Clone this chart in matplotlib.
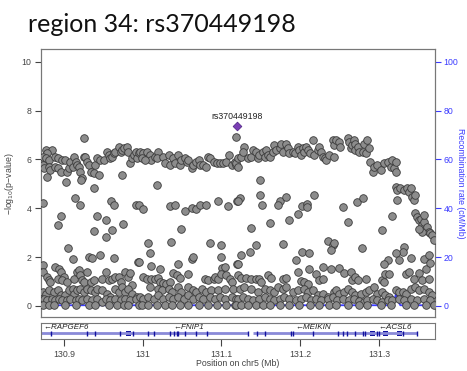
import numpy as np
import matplotlib
matplotlib.use("Agg")
import matplotlib.pyplot as plt

plt.rcParams['font.family'] = ['Liberation Sans', 'DejaVu Sans']

# Lead variant
lead_snp = 'rs370449198'
lead_pos = 131.120
lead_logp = 7.36

# Other SNPs in the region: (position in Mb, -log10 p)
snps_a_top = [
    (130.926, 6.86), (130.877, 6.38), (130.885, 6.38), (130.879, 6.25), (130.873, 6.11), (130.877, 6.04),
    (130.881, 5.97), (130.889, 6.11), (130.892, 6.04), (130.873, 5.77), (130.875, 5.63), (130.881, 5.70),
    (130.883, 5.56), (130.889, 5.70), (130.892, 5.63), (130.879, 5.29), (130.896, 5.49), (130.898, 5.97),
    (130.902, 5.97), (130.904, 5.49), (130.906, 5.63), (130.908, 5.90), (130.911, 5.70), (130.913, 6.11),
    (130.915, 5.90), (130.917, 5.77), (130.919, 5.70), (130.921, 5.49), (130.923, 5.22), (130.925, 6.11),
    (130.927, 6.11), (130.930, 5.90), (130.932, 5.77), (130.934, 5.49), (130.938, 5.43), (130.940, 5.77),
    (130.942, 6.04), (130.944, 5.36), (130.946, 5.97), (130.951, 5.97), (130.955, 6.31), (130.957, 6.18),
    (130.959, 6.04), (130.961, 6.11), (130.963, 6.25), (130.965, 6.31), (130.970, 6.52), (130.972, 6.31),
    (130.974, 6.38), (130.976, 6.45), (130.980, 6.52), (130.981, 6.31), (130.984, 5.84), (130.987, 6.04),
    (130.989, 6.18), (130.991, 6.31), (130.993, 6.04), (130.995, 6.25), (130.974, 5.36), (130.938, 4.81),
    (130.903, 5.08), (130.922, 5.15),
]
snps_a_mid = [
    (130.873, 4.20), (130.914, 4.43), (130.920, 4.13), (130.960, 4.29), (130.963, 4.13), (130.992, 4.13),
    (130.896, 3.69), (130.892, 3.31), (130.942, 3.69), (130.954, 3.53), (130.975, 3.35), (130.938, 3.06),
    (130.961, 3.09), (130.954, 2.83), (130.905, 2.38), (130.911, 1.91), (130.932, 1.99), (130.936, 1.97),
    (130.946, 2.08), (130.963, 1.97), (130.994, 1.81),
]
snps_a_low = [
    (130.873, 1.67), (130.873, 1.40), (130.879, 1.19), (130.881, 1.05), (130.883, 0.99), (130.889, 1.60),
    (130.894, 1.53), (130.896, 1.40), (130.892, 1.12), (130.900, 1.19), (130.898, 1.05), (130.904, 0.99),
    (130.913, 1.12), (130.917, 1.40), (130.919, 1.46), (130.921, 1.26), (130.923, 1.05), (130.930, 1.40),
    (130.925, 0.99), (130.934, 0.99), (130.938, 1.05), (130.949, 1.12), (130.953, 1.40), (130.957, 1.05),
    (130.961, 1.12), (130.965, 1.19), (130.970, 1.19), (130.972, 0.99), (130.978, 1.40), (130.982, 1.19),
    (130.984, 1.33), (130.987, 0.85), (130.873, 0.58), (130.877, 0.51), (130.881, 0.64), (130.887, 0.58),
    (130.892, 0.64), (130.896, 0.44), (130.902, 0.44), (130.906, 0.64), (130.911, 0.71), (130.913, 0.51),
    (130.917, 0.64), (130.921, 0.71), (130.925, 0.58), (130.930, 0.71), (130.934, 0.64), (130.940, 0.58),
    (130.942, 0.71), (130.949, 0.64), (130.955, 0.51), (130.959, 0.37), (130.965, 0.71), (130.970, 0.58),
    (130.974, 0.78), (130.978, 0.58), (130.982, 0.71), (130.987, 0.51), (130.993, 0.37), (130.875, 0.30),
    (130.879, 0.23), (130.885, 0.30), (130.889, 0.23), (130.894, 0.30), (130.898, 0.23), (130.904, 0.23),
    (130.908, 0.30), (130.915, 0.23), (130.919, 0.30), (130.923, 0.23), (130.930, 0.30), (130.936, 0.23),
    (130.942, 0.30), (130.949, 0.17), (130.953, 0.30), (130.959, 0.23), (130.965, 0.30), (130.972, 0.23),
    (130.978, 0.30), (130.984, 0.23), (130.991, 0.30), (130.873, 0.06), (130.881, 0.06), (130.887, 0.06),
    (130.902, 0.06), (130.915, 0.06), (130.932, 0.06), (130.940, 0.06), (130.957, 0.06), (130.968, 0.06),
    (130.976, 0.06), (130.982, 0.06), (130.995, 0.06),
]

snps_b_top = [
    (130.997, 6.31), (131.001, 6.25), (131.005, 6.31), (131.009, 6.18), (131.011, 5.97), (131.016, 6.11),
    (131.020, 6.31), (131.018, 6.04), (130.999, 6.04), (131.003, 5.97), (131.026, 6.11), (131.028, 5.84),
    (131.033, 6.18), (131.035, 5.77), (131.039, 6.04), (131.041, 5.84), (131.045, 6.18), (131.047, 5.77),
    (131.049, 5.97), (131.054, 6.04), (131.056, 5.90), (131.058, 5.97), (131.062, 5.63), (131.064, 5.77),
    (131.068, 5.90), (131.071, 5.97), (131.073, 5.77), (131.077, 5.77), (131.081, 5.70), (131.083, 6.11),
    (131.085, 6.04), (131.090, 5.90), (131.094, 5.84), (131.098, 5.84), (131.102, 5.84), (131.106, 5.90),
    (131.109, 6.18), (131.113, 5.77), (131.117, 5.90), (131.119, 5.77), (131.119, 6.93), (131.018, 4.95),
]
snps_b_mid = [
    (130.995, 4.13), (131.001, 3.96), (131.035, 4.09), (131.041, 4.15), (131.054, 3.88), (131.062, 4.03),
    (131.068, 3.99), (131.073, 4.13), (131.081, 4.13), (131.095, 4.31), (131.108, 4.09), (131.120, 4.29),
    (131.049, 3.14), (131.007, 2.56), (131.036, 2.60), (131.085, 2.56), (131.099, 2.49), (131.009, 2.15),
    (130.995, 1.81), (131.011, 1.64), (131.022, 1.53), (131.045, 1.71), (131.062, 1.94), (131.064, 2.01),
    (131.099, 2.01), (131.101, 1.56), (131.105, 1.60), (131.120, 1.70),
]
snps_b_low = [
    (131.001, 1.19), (131.005, 1.10), (131.011, 1.10), (131.016, 1.12), (131.020, 1.15), (131.022, 0.99),
    (131.026, 0.96), (131.030, 0.88), (131.035, 0.99), (131.039, 1.33), (131.043, 1.26), (131.047, 1.15),
    (131.058, 1.29), (131.079, 1.12), (131.083, 1.05), (131.090, 1.10), (131.092, 1.19), (131.096, 1.12),
    (131.100, 1.29), (131.106, 1.26), (131.111, 1.10), (131.113, 0.99), (131.009, 0.78), (131.020, 0.71),
    (131.024, 0.64), (131.033, 0.71), (131.037, 0.58), (131.045, 0.78), (131.049, 0.58), (131.058, 0.78),
    (131.064, 0.64), (131.068, 0.58), (131.075, 0.71), (131.081, 0.58), (131.087, 0.64), (131.096, 0.64),
    (131.104, 0.71), (131.115, 0.71), (130.997, 0.37), (131.001, 0.30), (131.007, 0.37), (131.014, 0.30),
    (131.020, 0.44), (131.026, 0.30), (131.033, 0.37), (131.039, 0.30), (131.045, 0.37), (131.052, 0.30),
    (131.058, 0.44), (131.064, 0.30), (131.071, 0.37), (131.077, 0.30), (131.085, 0.37), (131.092, 0.30),
    (131.098, 0.37), (131.104, 0.30), (131.113, 0.37), (131.119, 0.30), (130.999, 0.06), (131.007, 0.06),
    (131.018, 0.06), (131.028, 0.06), (131.037, 0.06), (131.047, 0.06), (131.058, 0.06), (131.071, 0.06),
    (131.083, 0.06), (131.094, 0.06), (131.106, 0.06), (131.117, 0.06),
]

snps_c_top = [
    (131.119, 5.84), (131.121, 5.70), (131.121, 6.04), (131.125, 6.11), (131.129, 6.52), (131.127, 6.31),
    (131.134, 6.04), (131.138, 6.11), (131.140, 6.38), (131.144, 6.31), (131.146, 6.04), (131.148, 6.18),
    (131.153, 6.31), (131.155, 6.11), (131.157, 6.38), (131.159, 6.18), (131.161, 6.11), (131.165, 6.31),
    (131.167, 6.59), (131.169, 6.38), (131.174, 6.45), (131.176, 6.65), (131.178, 6.31), (131.182, 6.65),
    (131.184, 6.45), (131.186, 6.25), (131.191, 6.31), (131.193, 6.25), (131.197, 6.52), (131.199, 6.38),
    (131.201, 6.18), (131.203, 6.45), (131.205, 6.31), (131.207, 6.52), (131.210, 6.38), (131.212, 6.25),
    (131.216, 6.79), (131.218, 6.18), (131.222, 6.38), (131.224, 6.52), (131.226, 6.31), (131.229, 6.11),
    (131.231, 6.04), (131.233, 5.97), (131.237, 6.18), (131.241, 6.79), (131.243, 6.59), (131.243, 6.11),
]
snps_c_mid = [
    (131.149, 5.15), (131.149, 4.54), (131.123, 4.43), (131.121, 4.29), (131.152, 4.13), (131.174, 4.29),
    (131.172, 4.15), (131.182, 4.47), (131.202, 4.10), (131.208, 4.18), (131.208, 4.05), (131.217, 4.54),
    (131.197, 3.76), (131.186, 3.51), (131.161, 3.38), (131.138, 3.20), (131.144, 2.49), (131.178, 2.54),
    (131.136, 2.22), (131.125, 2.08), (131.121, 1.70), (131.202, 2.22), (131.211, 2.16), (131.235, 2.68),
    (131.241, 2.49), (131.239, 2.28), (131.194, 1.87), (131.211, 1.50), (131.229, 1.61), (131.239, 1.53),
    (131.220, 1.30),
]
snps_c_low = [
    (131.121, 1.26), (131.125, 1.15), (131.131, 1.15), (131.138, 1.12), (131.144, 1.12), (131.148, 1.10),
    (131.150, 0.99), (131.159, 1.26), (131.163, 1.15), (131.178, 1.12), (131.182, 1.15), (131.197, 1.40),
    (131.201, 1.01), (131.205, 0.99), (131.210, 0.92), (131.224, 1.05), (131.229, 1.10), (131.123, 0.71),
    (131.129, 0.78), (131.138, 0.71), (131.146, 0.58), (131.155, 0.71), (131.161, 0.64), (131.167, 0.58),
    (131.172, 0.78), (131.178, 0.71), (131.182, 0.78), (131.191, 0.58), (131.197, 0.64), (131.205, 0.71),
    (131.210, 0.58), (131.216, 0.64), (131.222, 0.44), (131.229, 0.51), (131.235, 0.37), (131.243, 0.58),
    (131.121, 0.30), (131.127, 0.37), (131.134, 0.30), (131.140, 0.23), (131.148, 0.30), (131.155, 0.37),
    (131.161, 0.30), (131.167, 0.23), (131.174, 0.30), (131.180, 0.37), (131.186, 0.30), (131.195, 0.23),
    (131.201, 0.30), (131.207, 0.37), (131.214, 0.23), (131.220, 0.30), (131.226, 0.23), (131.235, 0.30),
    (131.241, 0.37), (131.119, 0.06), (131.125, 0.06), (131.134, 0.06), (131.144, 0.06), (131.153, 0.06),
    (131.161, 0.06), (131.174, 0.06), (131.186, 0.06), (131.199, 0.06), (131.212, 0.06), (131.224, 0.06),
    (131.237, 0.06),
]

snps_d_top = [
    (131.245, 6.79), (131.249, 6.72), (131.251, 6.52), (131.260, 6.89), (131.262, 6.72), (131.264, 6.45),
    (131.266, 6.59), (131.268, 6.79), (131.270, 6.65), (131.270, 6.38), (131.273, 6.52), (131.275, 6.31),
    (131.279, 6.31), (131.281, 6.65), (131.283, 6.25), (131.285, 6.79), (131.287, 6.45), (131.289, 5.90),
    (131.292, 5.49), (131.294, 5.70), (131.298, 5.77), (131.302, 5.56), (131.306, 5.84), (131.311, 5.90),
    (131.315, 5.70), (131.317, 5.97), (131.319, 5.63), (131.321, 5.49), (131.321, 5.90), (131.321, 4.88),
    (131.323, 4.74), (131.327, 4.81), (131.332, 4.74), (131.336, 4.81), (131.338, 4.67), (131.340, 4.81),
    (131.342, 4.47), (131.344, 4.33), (131.346, 4.54), (131.323, 4.33), (131.346, 3.79), (131.348, 3.65),
    (131.351, 3.51), (131.353, 3.58), (131.355, 3.31), (131.357, 3.44), (131.359, 3.10), (131.361, 3.24),
    (131.363, 3.03), (131.365, 2.97), (131.367, 2.90), (131.370, 2.69), (131.355, 3.03), (131.351, 3.17),
    (131.357, 3.72),
]
snps_d_mid = [
    (131.254, 4.06), (131.272, 4.24), (131.280, 4.43), (131.260, 3.44), (131.317, 3.69), (131.304, 3.10),
    (131.243, 2.56), (131.278, 2.39), (131.332, 2.42), (131.330, 2.22), (131.321, 2.15), (131.325, 1.90),
    (131.341, 1.97), (131.311, 1.87), (131.306, 1.70), (131.357, 1.94), (131.363, 2.10), (131.359, 1.53),
    (131.249, 1.56), (131.256, 1.37), (131.264, 1.40), (131.266, 1.05), (131.270, 1.19), (131.273, 1.05),
    (131.283, 1.12), (131.304, 1.05), (131.308, 1.29), (131.313, 1.29), (131.334, 1.29), (131.338, 1.40),
    (131.344, 1.12), (131.351, 1.33), (131.355, 1.05), (131.363, 1.12), (131.365, 1.74), (131.306, 0.99),
]
snps_d_low = [
    (131.245, 0.64), (131.249, 0.51), (131.256, 0.58), (131.260, 0.69), (131.266, 0.58), (131.270, 0.44),
    (131.277, 0.51), (131.283, 0.58), (131.287, 0.64), (131.294, 0.78), (131.298, 0.51), (131.304, 0.58),
    (131.308, 0.44), (131.313, 0.37), (131.321, 0.64), (131.325, 0.58), (131.330, 0.58), (131.334, 0.51),
    (131.340, 0.71), (131.346, 0.78), (131.351, 0.64), (131.357, 0.71), (131.363, 0.58), (131.367, 0.44),
    (131.247, 0.23), (131.254, 0.30), (131.262, 0.23), (131.268, 0.30), (131.275, 0.19), (131.281, 0.17),
    (131.285, 0.23), (131.292, 0.30), (131.298, 0.23), (131.304, 0.17), (131.311, 0.23), (131.317, 0.23),
    (131.325, 0.30), (131.332, 0.23), (131.340, 0.30), (131.348, 0.23), (131.357, 0.30), (131.365, 0.23),
    (131.245, 0.06), (131.260, 0.06), (131.275, 0.06), (131.285, 0.06), (131.302, 0.06), (131.315, 0.06),
    (131.334, 0.06), (131.344, 0.06), (131.359, 0.06), (131.370, 0.06),
]

# Recombination rate (cM/Mb)
recomb_pos = [130.871, 131.317, 131.320, 131.322, 131.324, 131.327, 131.371]
recomb_rate = [0.3, 0.3, 3.0, 5.8, 2.0, 0.3, 0.3]

# Genes
gene_names = ['RAPGEF6', 'FNIP1', 'MEIKIN', 'ACSL6']
gene_label_pos = [130.874, 131.039, 131.194, 131.299]
gene_lines = [(130.871, 131.134), (131.140, 131.348)]
exons = [130.884, 130.929, 130.940, 130.971, 130.988, 131.007, 131.015, 131.035, 131.040, 131.043,
         131.045, 131.054, 131.068, 131.082, 131.134, 131.145, 131.155, 131.188, 131.191, 131.216,
         131.248, 131.254, 131.259, 131.270, 131.280, 131.282, 131.298, 131.300, 131.330, 131.348]
exon_blocks = [(130.979, 130.985), (131.289, 131.295), (131.305, 131.311), (131.323, 131.329)]

xticks = [130.9, 131.0, 131.1, 131.2, 131.3]
xtick_labels = ['130.9', '131', '131.1', '131.2', '131.3']

pts = np.array(snps_a_top + snps_a_mid + snps_a_low + snps_b_top + snps_b_mid + snps_b_low +
               snps_c_top + snps_c_mid + snps_c_low + snps_d_top + snps_d_mid + snps_d_low)

grey = '#444444'
blue = '#3c3cff'
xlim = (130.871, 131.371)

fig = plt.figure(figsize=(4.67, 3.71), dpi=100)
ax = fig.add_axes([0.0878, 0.1456, 0.8437, 0.7224])
ax2 = ax.twinx()

ax2.plot(recomb_pos, recomb_rate, color=blue, lw=1.3)
ax2.set_ylim(-4.5, 105.2)
ax2.set_yticks([0, 20, 40, 60, 80, 100])
ax2.tick_params(axis='y', colors=blue, labelsize=6.3, length=4, width=0.8, pad=2)
fig.text(461 / 467, 0.507, 'Recombination rate (cM/Mb)', color=blue, fontsize=6.3,
         rotation=270, ha='center', va='center')

ax.set_zorder(ax2.get_zorder() + 1)
ax.patch.set_visible(False)
ax.scatter(pts[:, 0], pts[:, 1], s=30, c='#8c8c8c', edgecolors='#3a3a3a', linewidths=0.6, zorder=3)
ax.scatter([lead_pos], [lead_logp], marker='D', s=20, c='#7b3fb5', edgecolors='#4a1f80',
           linewidths=0.5, zorder=4)
ax.text(lead_pos, lead_logp + 0.22, lead_snp, ha='center', va='bottom', fontsize=6.3, color='#222222')

ax.set_xlim(*xlim)
ax.set_ylim(-0.45, 10.52)
ax.set_yticks([0, 2, 4, 6, 8, 10])
ax.set_xticks([])
ax.tick_params(axis='y', colors=grey, labelsize=6.3, length=4, width=0.8, pad=3)
ax.set_ylabel('\u2212log$_{10}$(p\u2212value)', fontsize=6.3, color=grey, labelpad=4)
for a in (ax, ax2):
    for sp in a.spines.values():
        sp.set_color('#777777')
        sp.set_linewidth(0.8)

# gene track
gax = fig.add_axes([0.0878, 0.0863, 0.8437, 0.0431])
for start, end in gene_lines:
    gax.plot([start, end], [0.35, 0.35], color='#8a8ad8', lw=2, solid_capstyle='butt')
gax.vlines(exons, 0.18, 0.52, color='#12129e', lw=1)
for start, end in exon_blocks:
    gax.fill_between([start, end], 0.18, 0.52, color='#12129e', lw=0)
for name, pos in zip(gene_names, gene_label_pos):
    gax.text(pos, 0.74, '\u2190' + name, fontsize=5.8, style='italic', color='#222222',
             ha='left', va='center')
gax.set_xlim(*xlim)
gax.set_ylim(0, 1)
gax.set_yticks([])
gax.set_xticks(xticks)
gax.set_xticklabels(xtick_labels)
gax.tick_params(axis='x', colors=grey, labelsize=6.3, length=5, width=0.8, pad=3)
for sp in gax.spines.values():
    sp.set_color('#777777')
    sp.set_linewidth(0.8)
fig.text(0.51, 1 - 364 / 371, 'Position on chr5 (Mb)', fontsize=6.3, color=grey,
         ha='center', va='center')

fig.text(28 / 467, 1 - 24 / 371, 'region 34: rs370449198', fontsize=18, va='center', ha='left',
         family=['Lato', 'DejaVu Sans'], color='#111111')

fig.savefig('out.png', dpi=100)
